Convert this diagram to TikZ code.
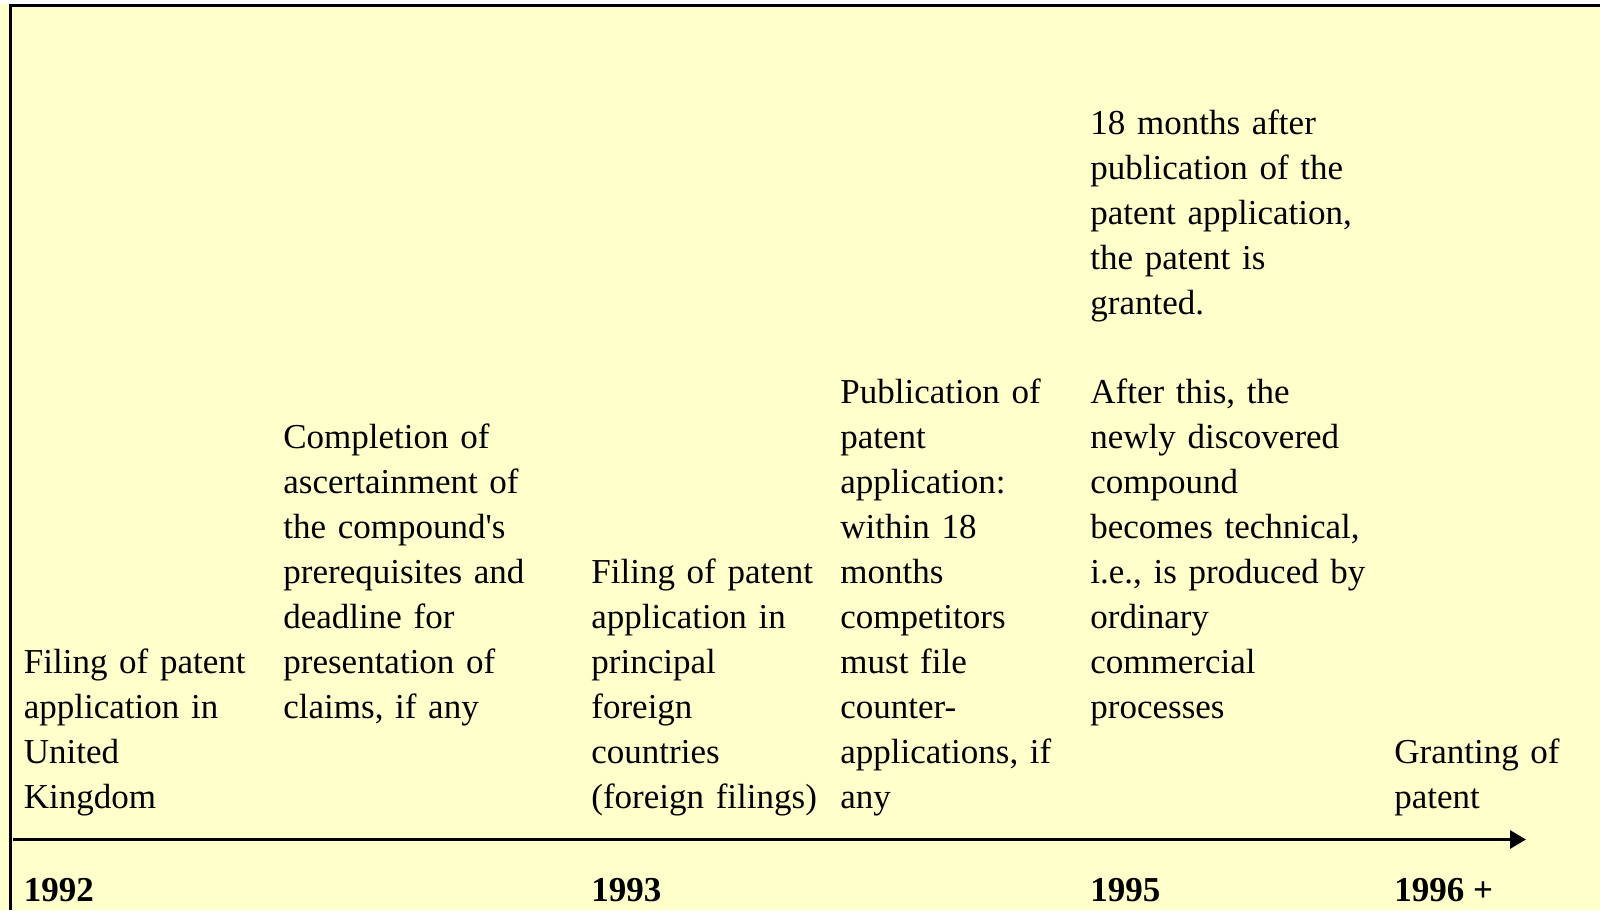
\documentclass[tikz,border=0pt]{standalone}
\usepackage{fontspec}
\setmainfont{Liberation Serif}
\usetikzlibrary{arrows.meta}
\definecolor{paper}{HTML}{FFFFCC}
\begin{document}
\begin{tikzpicture}[x=0.5pt,y=-0.5pt,
  event/.style={anchor=base west,inner sep=0pt,text width=160pt,align=left,
    font=\fontsize{17.5}{22.45}\selectfont},
  year/.style={anchor=base west,inner sep=0pt,
    font=\fontsize{17.5}{22.45}\selectfont\bfseries},
  frame/.style={line width=1.5pt,black},
  axis/.style={line width=1.5pt,black,-{Triangle[length=8pt,width=9pt]}}]
  % canvas
  \useasboundingbox (0,0) rectangle (1600,910);
  \fill[paper] (0,0) rectangle (1600,910);
  \fill[white] (0,0) rectangle (1600,4);
  \draw[frame] (10.8,910) -- (10.8,5.7) -- (1600,5.7);

  % timeline axis
  \coordinate (axisstart) at (13,839.5);
  \coordinate (axisend) at (1526,839.5);
  \draw[axis] (axisstart) -- (axisend);

  % events above the axis
  \node[event] (ukfiling) at (23.5,673.3)
    {Filing of patent\\application in\\United\\Kingdom};
  \node[event] (claims) at (283,448.8)
    {Completion of\\ascertainment of\\the compound\textquotesingle s\\prerequisites and\\deadline for\\presentation of\\claims, if any};
  \node[event] (foreign) at (591,583.5)
    {Filing of patent\\application in\\principal\\foreign\\countries\\(foreign filings)};
  \node[event] (publication) at (840,403.9)
    {Publication of\\patent\\application:\\within 18\\months\\competitors\\must file\\counter-\\applications, if\\any};
  \node[event] (granted) at (1090,134.5)
    {18 months after\\publication of the\\patent application,\\the patent is\\granted.};
  \node[event] (technical) at (1090,403.9)
    {After this, the\\newly discovered\\compound\\becomes technical,\\i.e., is produced by\\ordinary\\commercial\\processes};
  \node[event] (grant) at (1394,763.1)
    {Granting of\\patent};

  % years below the axis
  \node[year] (y1992) at (23.5,901) {1992};
  \node[year] (y1993) at (591,901) {1993};
  \node[year] (y1995) at (1090,901) {1995};
  \node[year] (y1996) at (1394,901) {1996 +};
\end{tikzpicture}
\end{document}
